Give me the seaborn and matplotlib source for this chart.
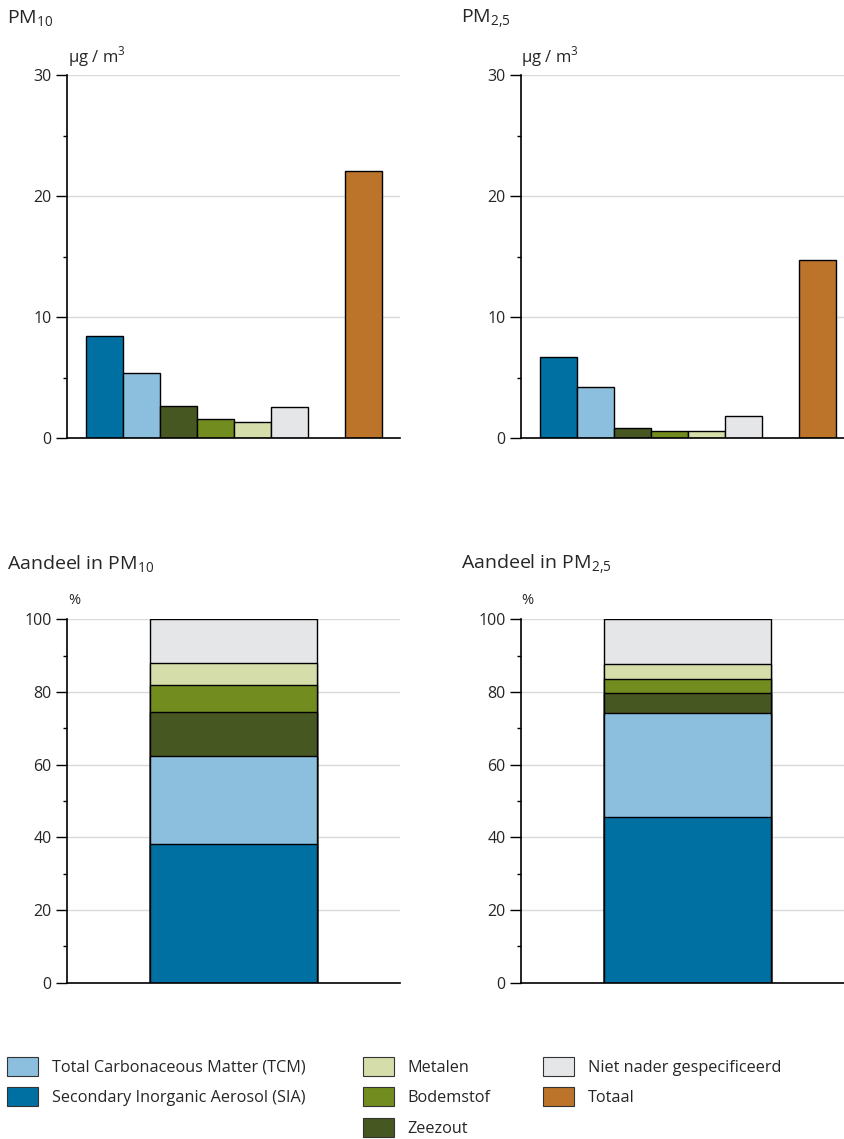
import pandas as pd
import matplotlib.pyplot as plt
import seaborn as sns
from matplotlib.patches import Patch
from matplotlib.ticker import MultipleLocator

# component names (order as drawn in the bar charts)
components = ["SIA", "TCM", "Zeezout", "Bodemstof", "Metalen", "Niet nader"]
bar_order = components + ["gap", "Totaal"]

# concentrations in ug/m3
pm10_values = [8.45, 5.4, 2.65, 1.6, 1.35, 2.6, 22.1]
pm25_values = [6.7, 4.2, 0.8, 0.6, 0.6, 1.8, 14.75]

# share of each component in %
pm10_share = [38.2, 24.3, 12.1, 7.2, 6.2, 12.0]
pm25_share = [45.6, 28.6, 5.4, 3.9, 4.1, 12.4]

colors = {
    "SIA": "#0070A3",
    "TCM": "#8BBFDD",
    "Zeezout": "#475722",
    "Bodemstof": "#738C20",
    "Metalen": "#D5DEAA",
    "Niet nader": "#E5E6E8",
    "Totaal": "#BC742B",
}

legend_cols = [
    [("TCM", "Total Carbonaceous Matter (TCM)"), ("SIA", "Secondary Inorganic Aerosol (SIA)")],
    [("Metalen", "Metalen"), ("Bodemstof", "Bodemstof"), ("Zeezout", "Zeezout")],
    [("Niet nader", "Niet nader gespecificeerd"), ("Totaal", "Totaal")],
]

sns.set_style("white")
plt.rcParams["font.family"] = ["Open Sans", "DejaVu Sans"]
plt.rcParams["mathtext.fontset"] = "custom"
plt.rcParams["mathtext.rm"] = "Open Sans"

fig = plt.figure(figsize=(8.44, 11.39), dpi=100)

W = 333 / 844
H_top = (438 - 75) / 1139
H_bot = (982.7 - 619.3) / 1139
ax_tl = fig.add_axes([67 / 844, 1 - 438 / 1139, W, H_top])
ax_tr = fig.add_axes([521 / 844, 1 - 438 / 1139, W, H_top])
ax_bl = fig.add_axes([67 / 844, 1 - 982.7 / 1139, W, H_bot])
ax_br = fig.add_axes([521 / 844, 1 - 982.7 / 1139, W, H_bot])


def style_axis(ax, ymax, major, minor):
    ax.set_ylim(0, ymax)
    ax.yaxis.set_major_locator(MultipleLocator(major))
    ax.yaxis.set_minor_locator(MultipleLocator(minor))
    ax.grid(axis="y", which="major", color="#DADADA", linewidth=1)
    ax.set_axisbelow(True)
    for s in ["top", "right"]:
        ax.spines[s].set_visible(False)
    ax.spines["left"].set_color("black")
    ax.spines["bottom"].set_color("black")
    ax.spines["left"].set_linewidth(1.2)
    ax.spines["bottom"].set_linewidth(1.2)
    ax.tick_params(axis="y", which="major", direction="out", length=8, width=1,
                   labelsize=11.5, pad=3, left=True, color="black")
    ax.tick_params(axis="y", which="minor", direction="out", length=3, width=1,
                   left=True, color="black")
    ax.set_xticks([])
    ax.set_xlabel("")
    ax.set_ylabel("")


def bars(ax, values):
    df = pd.DataFrame({"cat": components + ["Totaal"], "val": values})
    sns.barplot(data=df, x="cat", y="val", hue="cat", order=bar_order,
                palette=colors, width=1.0, edgecolor="black", linewidth=1,
                saturation=1, legend=False, ax=ax)
    ax.set_xlim(-1, 8)
    style_axis(ax, 30, 10, 5)


def stacked(ax, shares):
    # draw cumulative sums from top to bottom so each layer shows its own part
    cum = pd.Series(shares).cumsum().tolist()
    for name, top in reversed(list(zip(components, cum))):
        if name == components[-1]:
            top = 100
        df = pd.DataFrame({"x": ["a"], "val": [top]})
        sns.barplot(data=df, x="x", y="val", color=colors[name], width=1.0,
                    edgecolor="black", linewidth=1, saturation=1, ax=ax)
    ax.set_xlim(-1, 1)
    style_axis(ax, 100, 20, 10)


bars(ax_tl, pm10_values)
bars(ax_tr, pm25_values)
stacked(ax_bl, pm10_share)
stacked(ax_br, pm25_share)

# titles and units
fig.text(7 / 844, 1 - 19 / 1139, r"PM$_{\mathregular{10}}$", fontsize=14, va="center")
fig.text(461 / 844, 1 - 19 / 1139, r"PM$_{\mathregular{2{,}5}}$", fontsize=14, va="center")
fig.text(7 / 844, 1 - 564 / 1139, r"Aandeel in PM$_{\mathregular{10}}$", fontsize=14, va="center")
fig.text(461 / 844, 1 - 564 / 1139, r"Aandeel in PM$_{\mathregular{2{,}5}}$", fontsize=14, va="center")
fig.text(68 / 844, 1 - 57 / 1139, r"µg / m$^{\mathregular{3}}$", fontsize=12, va="center")
fig.text(521 / 844, 1 - 57 / 1139, r"µg / m$^{\mathregular{3}}$", fontsize=12, va="center")
fig.text(68 / 844, 1 - 601 / 1139, "%", fontsize=10.5, va="center")
fig.text(521 / 844, 1 - 601 / 1139, "%", fontsize=10.5, va="center")

# legend in three separate columns
col_x = [7 / 844, 363 / 844, 543 / 844]
for x, col in zip(col_x, legend_cols):
    handles = [Patch(facecolor=colors[k], edgecolor="#333333", linewidth=0.8, label=lab)
               for k, lab in col]
    fig.legend(handles=handles, loc="upper left", bbox_to_anchor=(x, 1 - 1057 / 1139),
               frameon=False, handlelength=1.9, handleheight=1.4, handletextpad=0.85,
               labelspacing=0.72, borderaxespad=0, borderpad=0,
               prop={"size": 11.7})

fig.savefig("out.png", dpi=100)
